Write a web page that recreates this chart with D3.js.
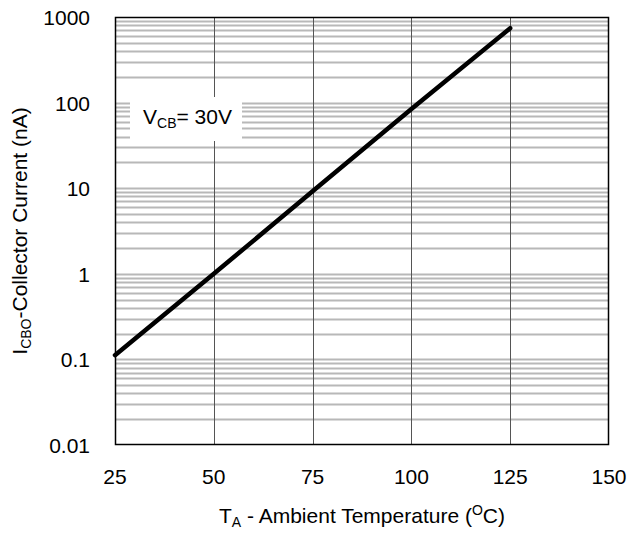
<!DOCTYPE html>
<html><head><meta charset="utf-8">
<script src="https://cdn.jsdelivr.net/npm/d3@7"></script>
<style>body{margin:0;background:#fff}svg{display:block}text{font-family:Arial,"Liberation Sans",sans-serif;fill:#000}</style>
</head><body><svg id="c" width="630" height="535"></svg>
<script>
const temps = [25, 50, 75, 100, 125];
const icbo = [0.112, 1.0, 9.2, 84, 740];
const xTicks = [25, 50, 75, 100, 125, 150];
const yTicks = [0.01, 0.1, 1, 10, 100, 1000];
const yTickLabels = ["0.01", "0.1", "1", "10", "100", "1000"];

const svg = d3.select("#c");
const L = 115, R = 609, T = 17, B = 445;
const x = d3.scaleLinear().domain([25, 150]).range([L, R]);
const y = d3.scaleLog().domain([0.01, 1000]).range([B, T]);

// minor horizontal grid
const minor = [];
for (let d = 0.01; d < 1000; d *= 10) for (let k = 2; k <= 9; k++) minor.push(d * k);
const g = svg.append("g");
g.selectAll(".hm").data(minor.concat(yTicks.slice(1, -1))).enter().append("line")
  .attr("x1", L).attr("x2", R).attr("y1", d => Math.round(y(d)) + 0.5).attr("y2", d => Math.round(y(d)) + 0.5)
  .attr("stroke", "#b8b8b8").attr("stroke-width", 2);
g.selectAll(".v").data(xTicks.slice(1, -1)).enter().append("line")
  .attr("x1", d => Math.round(x(d)) + 0.5).attr("x2", d => Math.round(x(d)) + 0.5).attr("y1", T).attr("y2", B)
  .attr("stroke", "#555").attr("stroke-width", 1);

// label box
svg.append("rect").attr("x", 130).attr("y", 97).attr("width", 112).attr("height", 44).attr("fill", "#fff");
const lt = svg.append("text").attr("x", 143).attr("y", 124).attr("font-size", 21);
lt.append("tspan").text("V");
lt.append("tspan").text("CB").attr("font-size", 14).attr("dy", 4);
lt.append("tspan").text("= 30V").attr("dy", -4);

// frame
svg.append("rect").attr("x", L + 0.5).attr("y", T + 0.5).attr("width", R - L - 1).attr("height", B - T - 1)
  .attr("fill", "none").attr("stroke", "#000").attr("stroke-width", 1.5);

// data line
const line = d3.line().x((d, i) => x(temps[i])).y(d => y(d));
svg.append("path").datum(icbo).attr("d", line).attr("fill", "none").attr("stroke", "#000")
  .attr("stroke-width", 4.5).attr("stroke-linecap", "round");

// axes labels
svg.selectAll(".xt").data(xTicks).enter().append("text")
  .attr("x", d => x(d)).attr("y", 484).attr("text-anchor", "middle").attr("font-size", 21).text(d => d);
svg.selectAll(".yt").data(yTicks).enter().append("text")
  .attr("x", 90).attr("y", d => y(d) + 8).attr("text-anchor", "end").attr("font-size", 21)
  .text((d, i) => yTickLabels[i]);

const xt = svg.append("text").attr("x", 362).attr("y", 523).attr("text-anchor", "middle").attr("font-size", 21);
xt.append("tspan").text("T");
xt.append("tspan").text("A").attr("font-size", 14).attr("dy", 4);
xt.append("tspan").text(" - Ambient Temperature (").attr("dy", -4);
xt.append("tspan").text("O").attr("font-size", 14).attr("dy", -8);
xt.append("tspan").text("C)").attr("dy", 8);

const yt = svg.append("text").attr("transform", "translate(27,231) rotate(-90)").attr("text-anchor", "middle").attr("font-size", 21);
yt.append("tspan").text("I");
yt.append("tspan").text("CBO").attr("font-size", 14).attr("dy", 4);
yt.append("tspan").text("-Collector Current (nA)").attr("dy", -4);
</script></body></html>
